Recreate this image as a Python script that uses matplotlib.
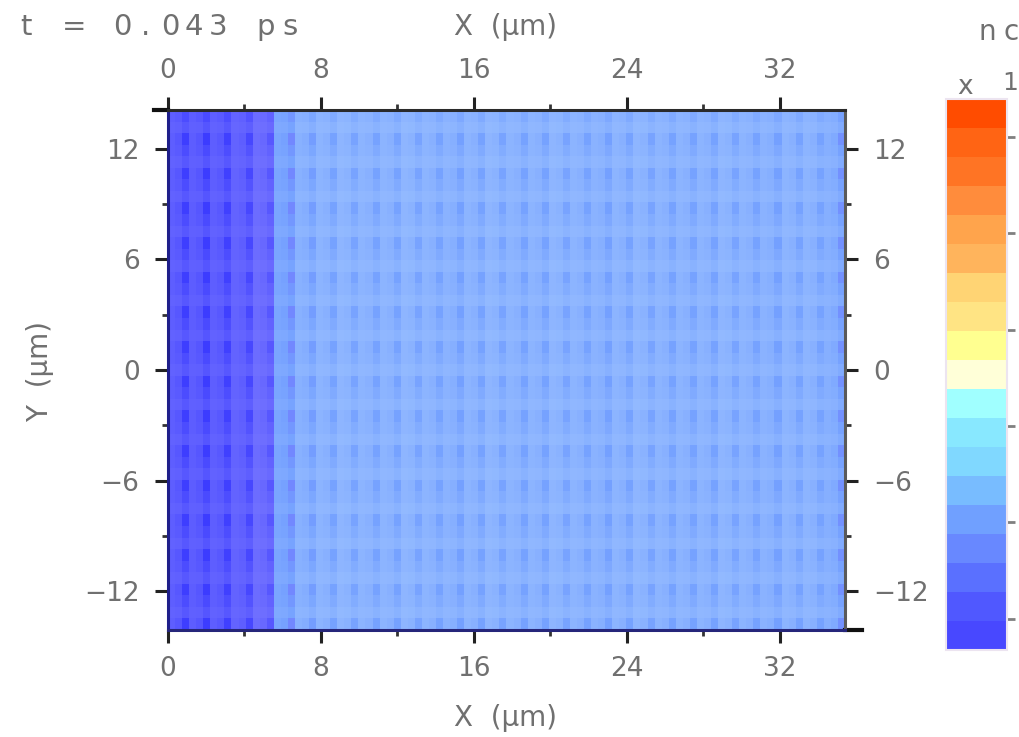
import numpy as np
import matplotlib
matplotlib.use("Agg")
import matplotlib.pyplot as plt
import matplotlib.colorbar as mcolorbar
from matplotlib.colors import ListedColormap, BoundaryNorm, LinearSegmentedColormap, Normalize
from matplotlib.ticker import FixedLocator, MultipleLocator

# ---------------- data ----------------
time_label = "t = 0.043 ps"
x_max = 35.4      # µm, right edge of the box
y_half = 14.1     # µm, half height of the box

x_ticks = [0, 8, 16, 24, 32]
y_ticks = [-12, -6, 0, 6, 12]

# electron density (colour-level units) per 3-cell column group along x
group_level = [0.95, 0.90, 0.95, 1.10, 1.45, 2.55, 2.90, 3.00, 3.05, 3.00,
               3.00, 3.05, 3.00, 2.95, 3.00, 3.05, 3.00, 3.00, 3.05, 3.00,
               2.95, 3.00, 3.05, 3.00, 3.00, 3.00, 3.05, 3.00, 2.95, 3.00,
               3.00, 2.85]
# depth of the dark grid stripe inside each group
stripe_depth = [0.90, 0.90, 0.85, 0.80, 0.70, 0.55, 0.55, 0.55, 0.55, 0.55,
                0.55, 0.55, 0.55, 0.55, 0.55, 0.55, 0.55, 0.55, 0.55, 0.55,
                0.55, 0.55, 0.55, 0.55, 0.55, 0.55, 0.55, 0.55, 0.55, 0.55,
                0.55, 0.70]
cell_weight = [0.0, 0.2, 1.0]      # stripe weight for the 3 cells of a group
row_weight = [1.0, 0.35, 0.55]     # stripe weight for the 3 rows of a period
row_light = [0.0, 0.12, 0.0]       # brighter band inside each period
n_row_periods = 15

# colour-bar levels (bottom to top)
level_colors = ['#4848ff', '#5058ff', '#5a70ff', '#6888ff', '#70a0ff',
                '#78bcff', '#80d8ff', '#88e8ff', '#a0ffff', '#ffffd8',
                '#ffff90', '#ffe484', '#ffd474', '#ffb45c', '#ffa44c',
                '#ff8c3c', '#ff7424', '#ff6414', '#ff4c00']
cbar_ticks = [1.07, 4.40, 7.72, 11.05, 14.37, 17.70]

# shading used for the density map
field_anchor_values = [0.0, 1.0, 1.6, 2.4, 3.0, 3.6]
field_anchor_colors = ['#3c3cff', '#6060ff', '#7070ff', '#74a0ff', '#8cb4ff', '#a0c4ff']

# ---------------- build density grid ----------------
n_groups = len(group_level)
nx = 3 * n_groups
ny = 3 * n_row_periods
base = np.repeat(group_level, 3)
depth = np.repeat(stripe_depth, 3) * np.tile(cell_weight, n_groups)
rw = np.tile(row_weight, n_row_periods)
rl = np.tile(row_light, n_row_periods)
field = base[None, :] - rw[:, None] * depth[None, :] + rl[:, None]

x_edges = np.linspace(0, x_max, nx + 1)
y_edges = np.linspace(-y_half, y_half, ny + 1)

vmax = field_anchor_values[-1]
field_cmap = LinearSegmentedColormap.from_list(
    "field", [(v / vmax, c) for v, c in zip(field_anchor_values, field_anchor_colors)])

# ---------------- figure ----------------
W, H = 1019, 737
fig = plt.figure(figsize=(W / 100, H / 100), dpi=100)
txt_color = '#707070'

ax = fig.add_axes([168 / W, 1 - 630 / H, (845 - 168) / W, (630 - 110) / H])
ax.pcolormesh(x_edges, y_edges, field, cmap=field_cmap,
              norm=Normalize(0, vmax), shading='flat')
ax.set_xlim(0, x_max)
ax.set_ylim(-y_half, y_half)

ax.xaxis.set_major_locator(FixedLocator(x_ticks))
ax.yaxis.set_major_locator(FixedLocator(y_ticks))
ax.xaxis.set_minor_locator(MultipleLocator(4))
ax.yaxis.set_minor_locator(MultipleLocator(3))
ax.tick_params(which='major', direction='out', length=9.5, width=2.2, color='#222222',
               top=True, right=True, labeltop=True, labelright=True,
               labelsize=19, labelcolor=txt_color)
ax.tick_params(axis='x', which='major', pad=9)
ax.tick_params(axis='y', which='major', pad=11)
ax.tick_params(which='minor', direction='out', length=4.5, width=2.0, color='#333333',
               top=True, right=True)

for side, col in [('left', '#1e1e8a'), ('bottom', '#26267a'),
                  ('top', '#2a2a2a'), ('right', '#5a5a5a')]:
    ax.spines[side].set_color(col)
    ax.spines[side].set_linewidth(2.2)

# corner marks at the box limits
ax.plot([-0.02, 0], [1, 1], transform=ax.transAxes, color='#111111', lw=3, clip_on=False)
ax.plot([1, 1.025], [0, 0], transform=ax.transAxes, color='#111111', lw=3, clip_on=False)

# ---------------- colour bar ----------------
cax = fig.add_axes([946 / W, 1 - 650 / H, (1007 - 946) / W, (650 - 99) / H])
level_cmap = ListedColormap(level_colors)
cb = mcolorbar.ColorbarBase(cax, cmap=level_cmap,
                            norm=BoundaryNorm(np.arange(len(level_colors) + 1), len(level_colors)),
                            orientation='vertical', ticks=cbar_ticks)
cb.outline.set_edgecolor('#ece4f0')
cb.outline.set_linewidth(1.5)
cax.minorticks_off()
cax.tick_params(which='major', direction='out', length=6, width=2, color='#808080', labelsize=1)
cax.set_yticklabels([''] * len(cbar_ticks))

# ---------------- text ----------------
def spaced(s, x0, y, pitch, size):
    for i, ch in enumerate(s):
        if ch != ' ':
            fig.text((x0 + pitch * i) / W, 1 - y / H, ch, ha='center', va='center',
                     fontsize=size, color=txt_color)

spaced(time_label, 26, 27, 24, 21)
spaced("nc", 987, 32, 24, 20)
fig.text(965 / W, 1 - 87 / H, "x", ha='center', va='center', fontsize=19, color=txt_color)
fig.text(1018 / W, 1 - 83 / H, "1", ha='right', va='center', fontsize=18, color=txt_color)

fig.text(506 / W, 1 - 27 / H, "X  (μm)", ha='center', va='center', fontsize=20, color=txt_color)
fig.text(506 / W, 1 - 718 / H, "X  (μm)", ha='center', va='center', fontsize=20, color=txt_color)
fig.text(40 / W, 1 - 372 / H, "Y  (μm)", ha='center', va='center', fontsize=20,
         color=txt_color, rotation=90)

fig.savefig("out.png", dpi=100)
